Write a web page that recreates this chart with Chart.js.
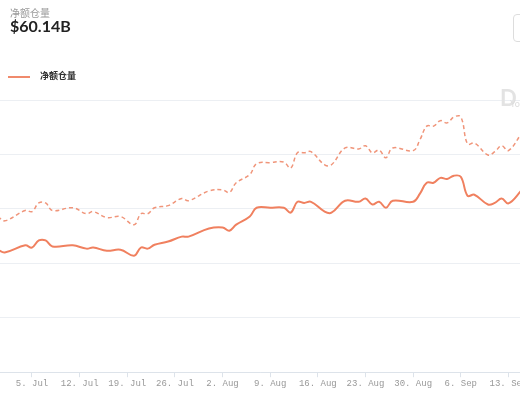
<!DOCTYPE html>
<html><head><meta charset="utf-8">
<script src="https://cdn.jsdelivr.net/npm/chart.js@4"></script>
<style>
body{margin:0;width:520px;height:400px;overflow:hidden;background:#fff;font-family:Lato,"Noto Sans CJK SC",sans-serif;position:relative}
#wrap{position:absolute;left:0;top:0;width:520px;height:400px}
.t1{position:absolute;left:10px;top:5px;font-size:10px;color:#999}
.t2{position:absolute;left:10px;top:16px;font-size:16px;font-weight:bold;color:#222}
.btn{position:absolute;left:513px;top:14px;width:20px;height:26px;border:1px solid #ddd;border-radius:4px}
.lg{position:absolute;left:8px;top:69px;font-size:9px;color:#333;font-weight:bold}
.lg span{display:inline-block;width:22px;height:2px;background:#f08a6c;vertical-align:middle;margin-right:10px}
.wm{position:absolute;left:500px;top:84px;font-size:22px;font-weight:bold;color:#e3e3e3}
.wm2{position:absolute;left:510px;top:98px;font-size:9px;color:#ddd}
</style></head><body>
<div id="wrap"><canvas id="c" width="520" height="400"></canvas></div>
<div class="t1">净额仓量</div>
<div class="t2">$60.14B</div>
<div class="btn"></div>
<div class="lg"><span></span>净额仓量</div>
<div class="wm">D</div><div class="wm2">Yo</div>
<script>
const days=[-5,-4,-1,0,1,2,3,6,8,9,11,13,15,16,17,18,20,22,23,26,28,29,30,32,33,35,37,38,39,40,41,43,44,46,48,49,50,51,52,53,56,57,58,59,60,61,62,63,64,65,67,68,69,70,72];
const solid=[22.5,22.0,23.3,22.9,24.2,24.2,23.1,23.3,22.7,22.9,22.3,22.5,21.4,22.9,22.7,23.4,24.0,24.9,24.9,26.4,26.6,26.0,27.1,28.6,30.2,30.2,30.2,29.3,31.3,31.1,31.3,29.5,29.3,31.5,31.3,31.9,30.8,31.3,30.2,31.5,31.3,32.8,34.8,34.8,35.7,35.5,36.1,35.9,32.4,32.6,30.8,31.1,31.9,31.0,33.5];
const dashed=[28.6,27.8,29.7,29.5,31.1,31.1,29.7,30.2,29.1,29.5,28.4,28.6,27.1,29.1,29.1,30.2,30.6,31.9,31.5,33.3,33.5,33.0,34.8,36.3,38.3,38.5,38.6,37.5,40.3,40.3,40.5,38.1,38.1,41.2,41.0,41.6,40.3,40.8,39.4,41.2,40.7,42.7,45.2,45.2,46.2,45.8,46.9,46.9,41.9,42.1,39.9,40.5,41.6,40.7,44.0];
const tickLabels=["5. Jul","12. Jul","19. Jul","26. Jul","2. Aug","9. Aug","16. Aug","23. Aug","30. Aug","6. Sep","13. Sep"];
const pts=a=>days.map((d,i)=>({x:d,y:a[i]}));
new Chart(document.getElementById('c'),{type:'line',
data:{datasets:[
{data:pts(dashed),borderColor:'#f0957a',borderWidth:1.5,borderDash:[4,3],pointRadius:0,tension:0.4},
{data:pts(solid),borderColor:'#f0805f',borderWidth:2,pointRadius:0,tension:0.4}]},
options:{animation:false,responsive:false,layout:{padding:{top:100,left:0,right:0,bottom:10}},
plugins:{legend:{display:false},tooltip:{enabled:false}},
scales:{
x:{type:'linear',min:-4.7,max:71.7,afterBuildTicks:ax=>{ax.ticks=tickLabels.map((l,i)=>({value:i*7}));},
 afterFit:s=>{s.paddingLeft=0;s.paddingRight=0;},
 ticks:{autoSkip:false,maxRotation:0,color:'#999',font:{family:'Liberation Mono',size:9},padding:1,callback:(v)=>tickLabels[Math.round(v/7)]},
 grid:{display:true,drawOnChartArea:false,tickLength:5,color:'#dde3ea'},border:{color:'#dde3ea'}},
y:{min:0,max:50,ticks:{display:false,stepSize:10},grid:{color:'#eceff3',drawTicks:false},border:{display:false}}
}}});
</script></body></html>
